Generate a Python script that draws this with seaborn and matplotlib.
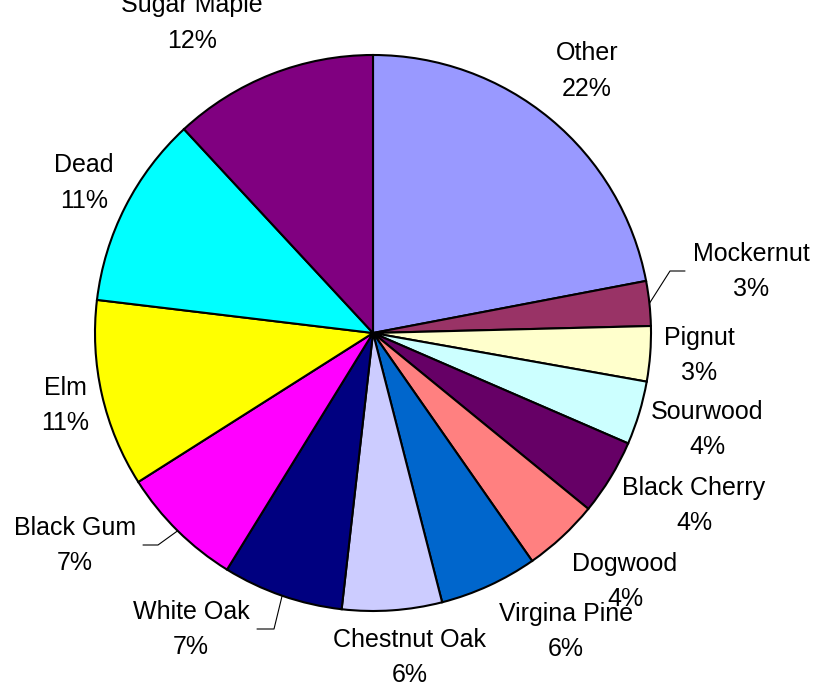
import matplotlib
matplotlib.use("Agg")
import numpy as np
import matplotlib.pyplot as plt
import seaborn as sns

# Tree species composition (percent of stems)
species = ["Other", "Mockernut", "Pignut", "Sourwood", "Black Cherry", "Dogwood",
           "Virgina Pine", "Chestnut Oak", "White Oak", "Black Gum", "Elm",
           "Dead", "Sugar Maple"]
shares = [22.0, 2.6, 3.2, 3.7, 4.4, 4.4, 5.7, 5.8, 7.0, 7.2, 10.9, 11.2, 11.9]
colors = ["#9999FF", "#993366", "#FFFFCC", "#CCFFFF", "#660066", "#FF8080",
          "#0066CC", "#CCCCFF", "#000080", "#FF00FF", "#FFFF00", "#00FFFF",
          "#800080"]

sns.set_theme(style="white")
plt.rcParams["font.family"] = ["Liberation Sans", "DejaVu Sans"]

W, H = 817, 684
fig = plt.figure(figsize=(W / 100, H / 100), dpi=100)
ax = fig.add_axes([0, 0, 1, 1])

cx, cy, r = 373, H - 333, 278
wedges, _ = ax.pie(shares, colors=colors, startangle=90, counterclock=False,
                   center=(cx, cy), radius=r,
                   wedgeprops=dict(edgecolor="black", linewidth=1.5))
ax.set_xlim(0, W)
ax.set_ylim(0, H)
ax.set_aspect("equal")
ax.axis("off")

# label placement: (x centre, baseline of first line) in pixels from top-left
label_layout = {
    "Other": (587, 60), "Mockernut": (751, 261), "Pignut": (699, 345),
    "Sourwood": (707, 419), "Black Cherry": (694, 495), "Dogwood": (625, 571),
    "Virgina Pine": (566, 621), "Chestnut Oak": (410, 647), "White Oak": (191, 619),
    "Black Gum": (75, 535), "Elm": (65, 395), "Dead": (84, 172),
    "Sugar Maple": (192, 12),
}
line_gap = 35.5
font_size = 18

# leader lines: elbow and end points in pixels from top-left
leaders = {
    "Mockernut": [(670, 271), (685, 271)],
    "Black Gum": [(158, 545), (143, 545)],
    "White Oak": [(274, 629), (257, 629)],
}

for name, val, w in zip(species, shares, wedges):
    x, yb = label_layout[name]
    ax.text(x, H - yb, name, ha="center", va="baseline", fontsize=font_size, color="black")
    ax.text(x, H - yb - line_gap, f"{val:.0f}%", ha="center", va="baseline",
            fontsize=font_size, color="black")
    if name in leaders:
        mid = np.deg2rad((w.theta1 + w.theta2) / 2)
        ax_pt = (cx + r * np.cos(mid), cy + r * np.sin(mid))
        pts = [ax_pt] + [(px, H - py) for px, py in leaders[name]]
        ax.plot([p[0] for p in pts], [p[1] for p in pts], color="black", lw=0.8)

fig.savefig("out.png", dpi=100)
